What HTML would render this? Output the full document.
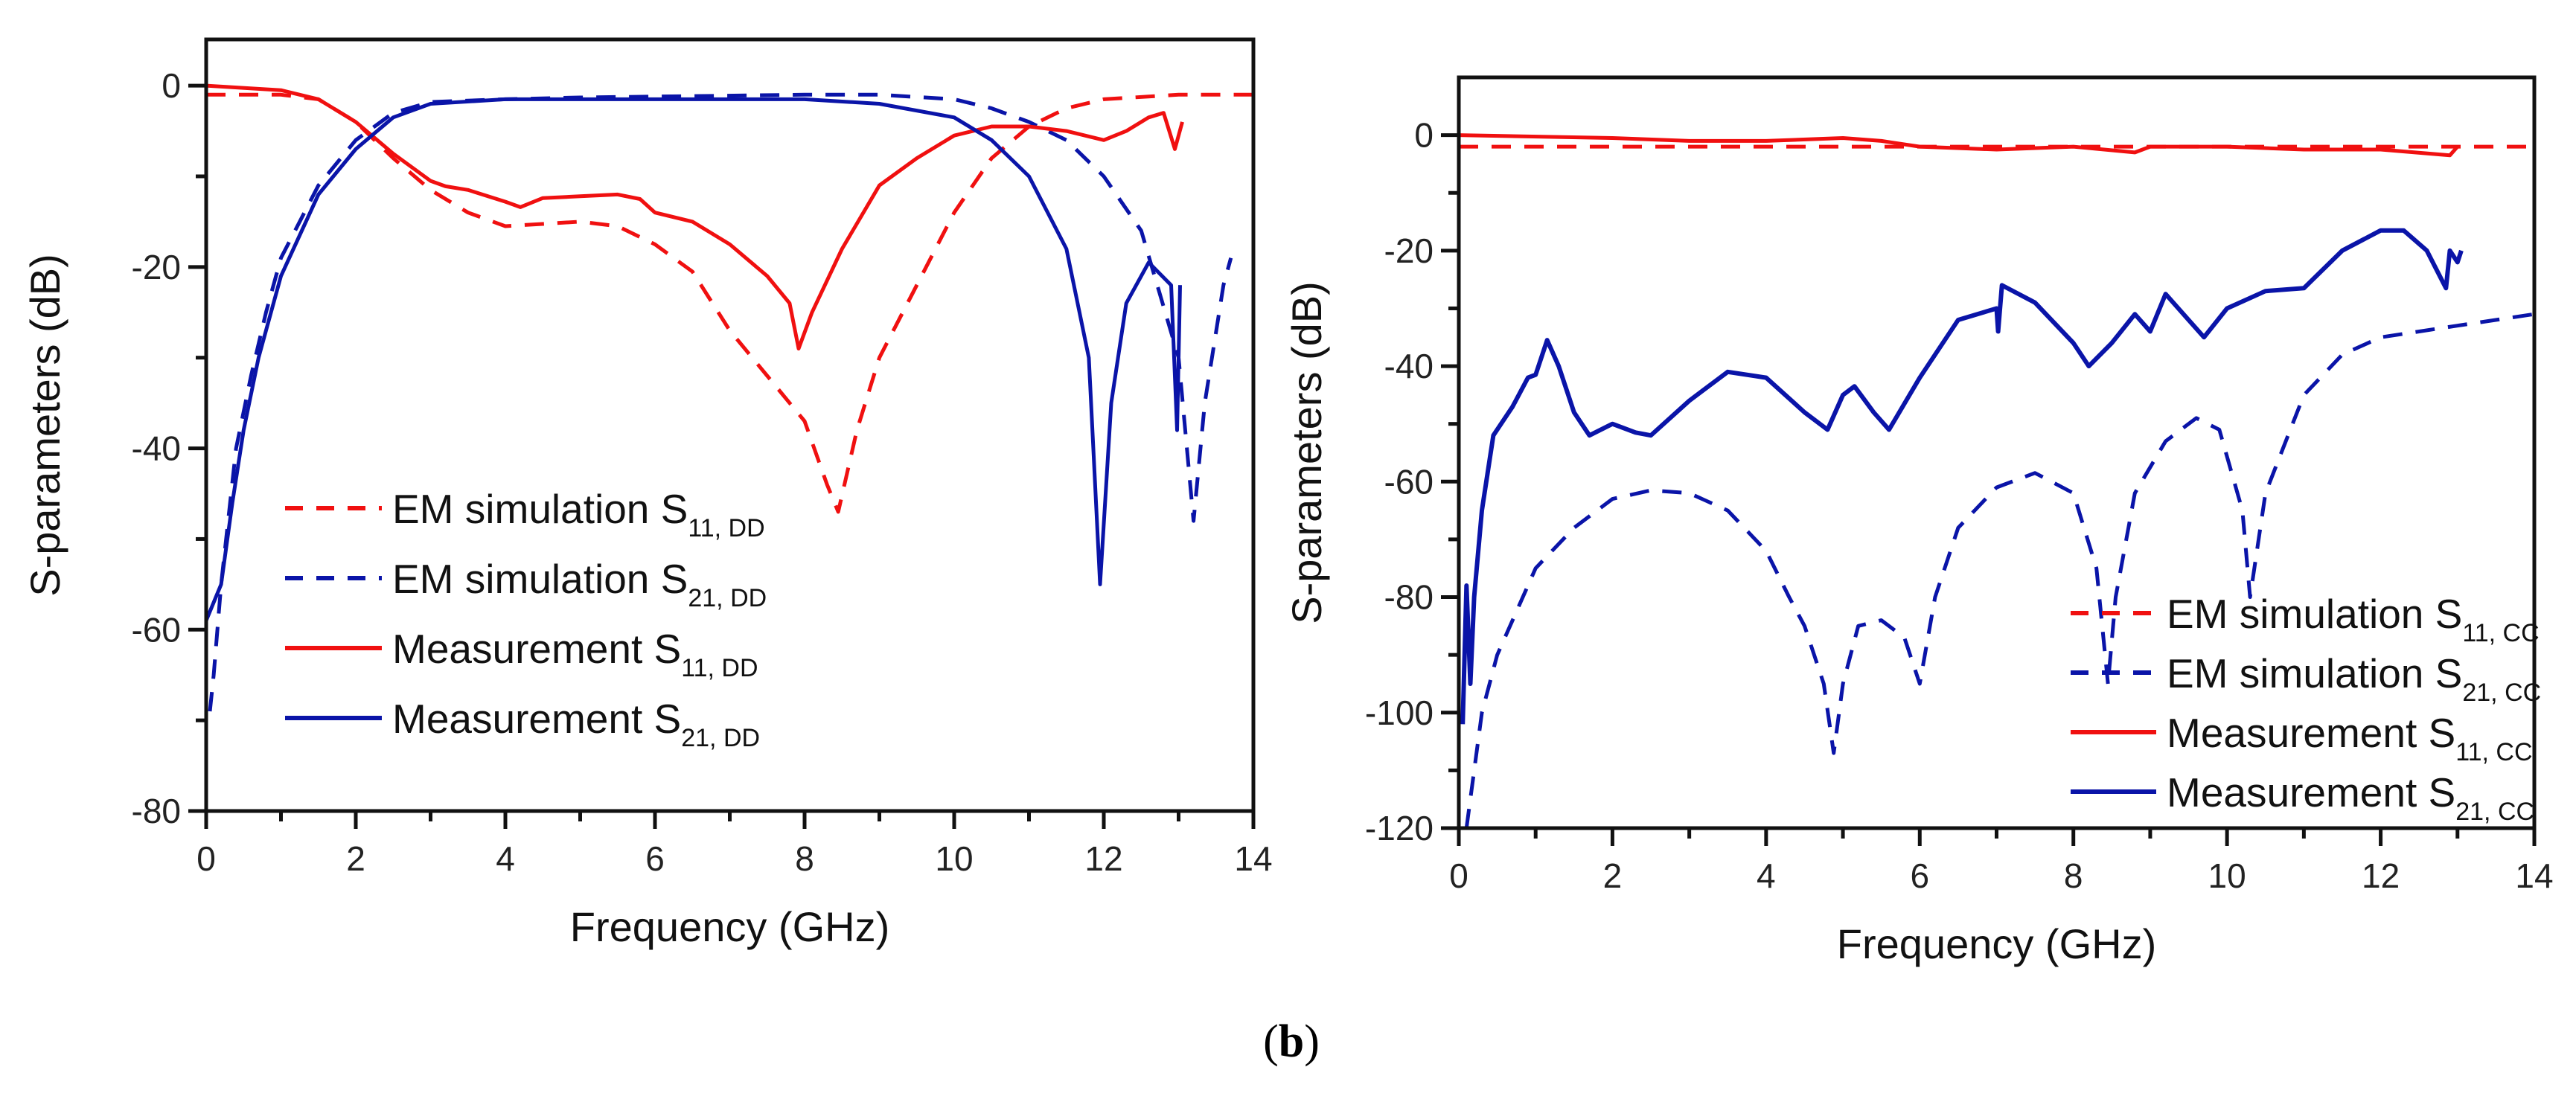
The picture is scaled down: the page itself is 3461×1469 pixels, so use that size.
<!DOCTYPE html>
<html><head><meta charset="utf-8">
<style>
html,body{margin:0;padding:0;background:#fff;}
svg{display:block;font-family:"Liberation Sans",Arial,sans-serif;}
</style></head>
<body>
<svg id="fig" width="3461" height="1469" viewBox="0 0 3461 1469" xmlns="http://www.w3.org/2000/svg">
<rect width="3461" height="1469" fill="#fff"/>
<g id="left"></g>
<g id="right"></g>
<text x="1735" y="1420" font-family="Liberation Serif, serif" font-size="62" text-anchor="middle">(<tspan font-weight="bold">b</tspan>)</text>
</svg>
<script>
// ---- Left chart data (differential mode) ----
const emS11ddX = [0,1,1.5,2,2.5,3,3.5,4,5,5.5,6,6.5,7,7.5,8,8.3,8.45,8.7,9,9.5,10,10.5,11,11.5,12,13,14];
const emS11ddY = [-1,-1,-1.5,-4,-8,-11.5,-14,-15.5,-15,-15.5,-17.5,-20.5,-27,-32,-37,-44,-47,-38,-30,-22,-14,-8,-4.5,-2.5,-1.5,-1,-1];
const meS11ddX = [0,1,1.5,2,2.5,3,3.2,3.5,4,4.2,4.5,5,5.5,5.8,6,6.5,7,7.5,7.8,7.92,8.1,8.5,9,9.5,10,10.5,11,11.5,12,12.3,12.6,12.8,12.95,13.05];
const meS11ddY = [0,-0.5,-1.5,-4,-7.5,-10.5,-11.1,-11.5,-12.8,-13.4,-12.4,-12.2,-12,-12.5,-14,-15,-17.5,-21,-24,-29,-25,-18,-11,-8,-5.5,-4.5,-4.5,-5,-6,-5,-3.5,-3,-7,-4];
const emS21ddX = [0.05,0.1,0.2,0.4,0.6,0.8,1,1.5,2,2.5,3,4,5,6,8,9,10,10.5,11,11.5,12,12.5,13,13.2,13.35,13.6,13.7];
const emS21ddY = [-69,-65,-55,-40,-32,-25,-19,-11,-6,-3,-1.8,-1.5,-1.3,-1.2,-1,-1,-1.5,-2.5,-4,-6,-10,-16,-30,-48,-35,-22,-19];
const meS21ddX = [0,0.2,0.35,0.5,0.7,1,1.5,2,2.5,3,4,5,6,7,8,9,10,10.5,11,11.5,11.8,11.95,12.1,12.3,12.6,12.9,12.98,13.02];
const meS21ddY = [-59,-55,-46,-38,-30,-21,-12,-7,-3.5,-2,-1.5,-1.5,-1.5,-1.5,-1.5,-2,-3.5,-6,-10,-18,-30,-55,-35,-24,-19.5,-22,-38,-22];
const leftYTicks = [0,-20,-40,-60,-80];
const xTicks = [0,2,4,6,8,10,12,14];

// ---- Right chart data (common mode) ----
const emS11ccX = [0,14];
const emS11ccY = [-2,-2];
const meS11ccX = [0,2,3,4,5,5.5,6,7,8,8.8,9,10,11,12,12.9,13];
const meS11ccY = [0,-0.5,-1,-1,-0.5,-1,-2,-2.5,-2,-3,-2,-2,-2.5,-2.5,-3.5,-2];
const emS21ccX = [0.1,0.3,0.5,1,1.5,2,2.5,3,3.5,4,4.3,4.5,4.75,4.88,5.0,5.2,5.5,5.8,6,6.2,6.5,7,7.5,8,8.3,8.45,8.55,8.8,9.2,9.6,9.9,10.2,10.3,10.5,11,11.5,12,13,14];
const emS21ccY = [-120,-100,-90,-75,-68,-63,-61.5,-62,-65,-72,-80,-85,-95,-107,-95,-85,-84,-87,-95,-80,-68,-61,-58.5,-62,-75,-95,-80,-62,-53,-49,-51,-65,-80,-62,-45,-38,-35,-33,-31];
const meS21ccX = [0.05,0.1,0.15,0.2,0.3,0.45,0.7,0.9,1.0,1.15,1.3,1.5,1.7,2.0,2.3,2.5,3,3.5,4,4.5,4.8,5.0,5.15,5.4,5.6,6,6.5,7,7.02,7.07,7.5,8,8.2,8.5,8.8,9.0,9.2,9.5,9.7,10,10.5,11,11.5,12,12.3,12.6,12.85,12.9,13,13.05];
const meS21ccY = [-102,-78,-95,-80,-65,-52,-47,-42,-41.5,-35.5,-40,-48,-52,-50,-51.5,-52,-46,-41,-42,-48,-51,-45,-43.5,-48,-51,-42,-32,-30,-34,-26,-29,-36,-40,-36,-31,-34,-27.5,-32,-35,-30,-27,-26.5,-20,-16.5,-16.5,-20,-26.5,-20,-22,-20];
const rightYTicks = [0,-20,-40,-60,-80,-100,-120];

const NS = "http://www.w3.org/2000/svg";
const RED = "#f01010", BLUE = "#0a14a8";
function mk(tag, attrs, parent){ const e=document.createElementNS(NS,tag); for(const k in attrs) e.setAttribute(k,attrs[k]); parent.appendChild(e); return e; }

function drawChart(g, cfg){
  const sx = v => cfg.x0 + (v - cfg.xmin) / (cfg.xmax - cfg.xmin) * (cfg.x1 - cfg.x0);
  const sy = v => cfg.y0 + (cfg.ymax - v) / (cfg.ymax - cfg.ymin) * (cfg.y1 - cfg.y0);
  cfg.series.forEach(s=>{
    const d = s.x.map((xv,i)=>(i?'L':'M')+sx(xv).toFixed(1)+','+sy(s.y[i]).toFixed(1)).join(' ');
    const p = mk('path',{d:d,fill:'none',stroke:s.color,'stroke-width':s.w,'stroke-linejoin':'round'},g);
    if(s.dash) p.setAttribute('stroke-dasharray',s.dash);
    
    
  });
  const fr = mk('rect',{x:cfg.x0,y:cfg.y0,width:cfg.x1-cfg.x0,height:cfg.y1-cfg.y0,fill:'none',stroke:'#111','stroke-width':5},g);
  
  
  for(let v=cfg.xmin; v<=cfg.xmax; v+=1){
    const major = v%2===0;
    mk('line',{x1:sx(v),x2:sx(v),y1:cfg.y1,y2:cfg.y1+(major?24:14),stroke:'#111','stroke-width':5},g);
  }
  xTicks.forEach(v=>{
    const t = mk('text',{x:sx(v),y:cfg.y1+80,'font-size':46,'text-anchor':'middle',fill:'#222'},g);
    t.textContent = v;
    
    
  });
  for(let v=cfg.ymin; v<=0; v+=10){
    const major = v%20===0;
    mk('line',{x1:cfg.x0,x2:cfg.x0-(major?24:14),y1:sy(v),y2:sy(v),stroke:'#111','stroke-width':5},g);
  }
  cfg.yTicks.forEach(v=>{
    const t = mk('text',{x:cfg.x0-34,y:sy(v)+16,'font-size':46,'text-anchor':'end',fill:'#222'},g);
    t.textContent = v;
    
    
  });
  const xt = mk('text',{x:(cfg.x0+cfg.x1)/2,y:cfg.y1+175,'font-size':56,'text-anchor':'middle',fill:'#111'},g);
  xt.textContent = 'Frequency (GHz)';
  
  
  const yt = mk('text',{x:0,y:0,'font-size':56,'text-anchor':'middle',fill:'#111',transform:`translate(${cfg.ytx},${(cfg.y0+cfg.y1)/2}) rotate(-90)`},g);
  yt.textContent = 'S-parameters (dB)';
  
  
  cfg.legend.forEach((L,i)=>{
    const y = cfg.lg.y + i*cfg.lg.dy;
    const ln = mk('line',{x1:cfg.lg.x,x2:cfg.lg.x+cfg.lg.len,y1:y,y2:y,stroke:L.color,'stroke-width':6},g);
    if(L.dash) ln.setAttribute('stroke-dasharray','24,18');
    
    
    const t = mk('text',{x:cfg.lg.x+cfg.lg.len+14,y:y+20,'font-size':55,fill:'#111'},g);
    
    
    t.appendChild(document.createTextNode(L.label+' S'));
    const sub = mk('tspan',{'font-size':34,dy:18},t);
    sub.textContent = L.sub;
  });
}

drawChart(document.getElementById('left'),{
  x0:277,x1:1684,y0:53,y1:1090,xmin:0,xmax:14,ymin:-80,ymax:5.1,yTicks:leftYTicks,ytx:80,
  series:[
    {x:emS11ddX,y:emS11ddY,color:RED,w:5,dash:'26,18',name:'em-sim-s11-dd'},
    {x:emS21ddX,y:emS21ddY,color:BLUE,w:5,dash:'26,18',name:'em-sim-s21-dd'},
    {x:meS11ddX,y:meS11ddY,color:RED,w:5,name:'measurement-s11-dd'},
    {x:meS21ddX,y:meS21ddY,color:BLUE,w:5,name:'measurement-s21-dd'}
  ],
  lg:{x:383,y:683,dy:94,len:130},
  legend:[
    {label:'EM simulation',sub:'11, DD',color:RED,dash:true},
    {label:'EM simulation',sub:'21, DD',color:BLUE,dash:true},
    {label:'Measurement',sub:'11, DD',color:RED},
    {label:'Measurement',sub:'21, DD',color:BLUE}
  ]
});

drawChart(document.getElementById('right'),{
  x0:1960,x1:3405,y0:104,y1:1113,xmin:0,xmax:14,ymin:-120,ymax:10,yTicks:rightYTicks,ytx:1775,
  series:[
    {x:emS11ccX,y:emS11ccY,color:RED,w:5,dash:'26,18',name:'em-sim-s11-cc'},
    {x:emS21ccX,y:emS21ccY,color:BLUE,w:5,dash:'26,18',name:'em-sim-s21-cc'},
    {x:meS11ccX,y:meS11ccY,color:RED,w:5,name:'measurement-s11-cc'},
    {x:meS21ccX,y:meS21ccY,color:BLUE,w:6,name:'measurement-s21-cc'}
  ],
  lg:{x:2782,y:824,dy:80,len:115},
  legend:[
    {label:'EM simulation',sub:'11, CC',color:RED,dash:true},
    {label:'EM simulation',sub:'21, CC',color:BLUE,dash:true},
    {label:'Measurement',sub:'11, CC',color:RED},
    {label:'Measurement',sub:'21, CC',color:BLUE}
  ]
});
</script>
</body></html>
